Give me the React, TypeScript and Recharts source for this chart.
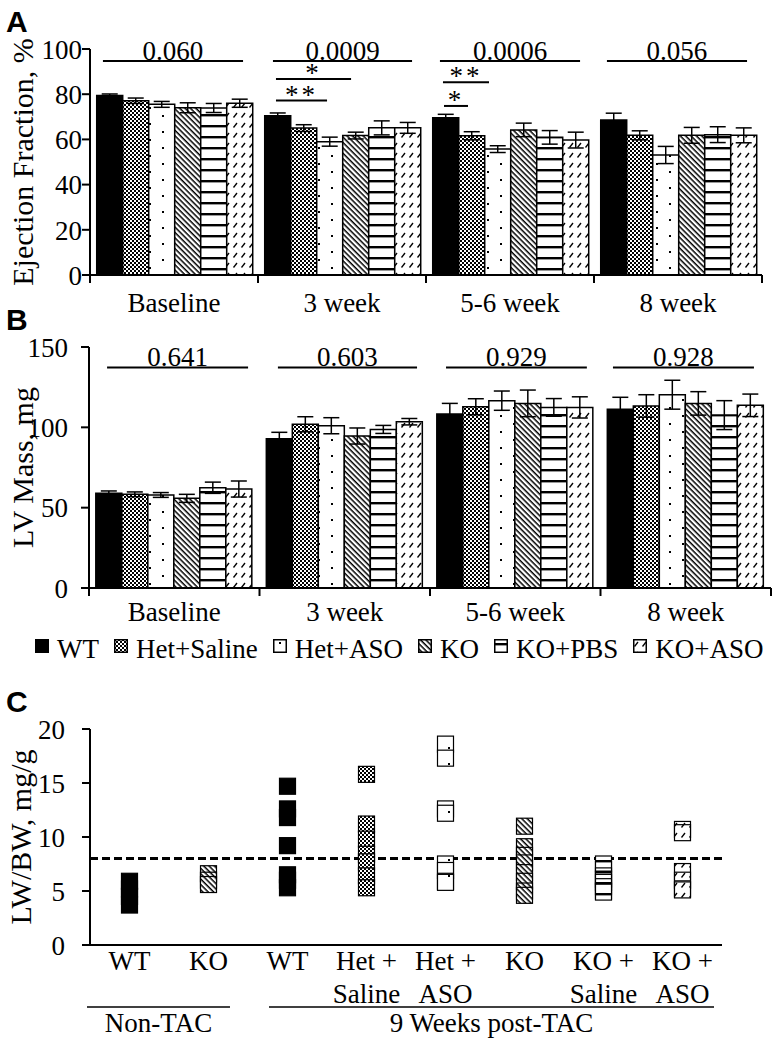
import React from 'react';
import { BarChart, Bar, XAxis, YAxis, ErrorBar, ReferenceLine, Legend, ScatterChart, Scatter } from 'recharts';

const FONT = "'Liberation Serif', 'Times New Roman', serif";

// ---------- Panels A & B: categories / series ----------
const groups = ['WT', 'Het+Saline', 'Het+ASO', 'KO', 'KO+PBS', 'KO+ASO'];
const timepoints = ['Baseline', '3 week', '5-6 week', '8 week'];

// Ejection fraction (%), mean and SEM per group across timepoints
const efWT = [79.4, 70.5, 69.6, 68.6];
const efHetSaline = [77.1, 65.0, 61.6, 61.8];
const efHetASO = [75.5, 59.0, 55.7, 53.1];
const efKO = [74.0, 61.7, 64.2, 61.8];
const efKOPBS = [73.9, 65.1, 60.9, 62.1];
const efKOASO = [76.0, 65.1, 59.7, 61.8];
const efErrWT = [0.7, 1.2, 1.5, 3.0];
const efErrHetSaline = [1.2, 1.5, 1.8, 2.0];
const efErrHetASO = [1.3, 2.0, 1.5, 3.8];
const efErrKO = [2.2, 1.5, 3.0, 3.5];
const efErrKOPBS = [2.0, 3.1, 3.0, 3.5];
const efErrKOASO = [1.8, 2.4, 3.5, 3.3];

// LV mass (mg)
const lvWT = [58.9, 92.9, 108.3, 111.2];
const lvHetSaline = [58.3, 101.9, 112.8, 113.3];
const lvHetASO = [57.9, 101.0, 116.6, 120.3];
const lvKO = [55.8, 94.6, 114.9, 114.9];
const lvKOPBS = [62.4, 98.7, 112.4, 107.6];
const lvKOASO = [61.6, 103.5, 112.4, 113.7];
const lvErrWT = [1.5, 4.0, 6.6, 7.5];
const lvErrHetSaline = [1.5, 4.7, 5.0, 7.0];
const lvErrHetASO = [1.5, 5.0, 6.0, 9.0];
const lvErrKO = [2.5, 5.0, 8.3, 7.3];
const lvErrKOPBS = [3.5, 2.5, 5.5, 9.0];
const lvErrKOASO = [5.0, 2.0, 6.6, 7.0];

// significance annotations (x in category units, 0..4)
const efPLabels = ['0.060', '0.0009', '0.0006', '0.056'];
const efPStart = [0.077, 1.089, 2.083, 3.077];
const efPEnd = [0.911, 1.917, 2.917, 3.911];
const efPY = 94.7;
const efStarLabels = ['*', '**', '**', '*'];
const efStarStart = [1.107, 1.107, 2.101, 2.107];
const efStarEnd = [1.554, 1.411, 2.375, 2.25];
const efStarY = [86.7, 77.2, 85.3, 74.8];

const lvPLabels = ['0.641', '0.603', '0.929', '0.928'];
const lvPStart = [0.106, 1.108, 2.094, 3.073];
const lvPEnd = [0.933, 1.924, 2.92, 3.9];
const lvPY = 137.3;

// ---------- Panel C ----------
const cLabels = ['WT', 'KO', 'WT', 'Het +\nSaline', 'Het +\nASO', 'KO', 'KO +\nSaline', 'KO +\nASO'];
const cNonTacWT = [5.9, 5.2, 4.5, 3.7];
const cNonTacKO = [6.6, 6.0, 5.6];
const cWT = [14.7, 12.6, 11.8, 9.2, 6.5, 6.0, 5.3];
const cHetSaline = [15.8, 11.2, 9.8, 8.4, 7.7, 6.4, 5.3];
const cHetASO = [18.6, 17.3, 12.6, 12.2, 7.5, 6.9, 5.9, 5.8];
const cKO = [11.0, 9.1, 8.3, 7.6, 6.7, 5.9, 5.0, 4.6];
const cKOSaline = [7.5, 7.0, 6.4, 6.1, 5.8, 5.4, 5.0, 4.9];
const cKOASO = [10.7, 10.4, 6.8, 6.0, 5.2, 5.1];
const cThreshold = 8;
const cGroupLabels = ['Non-TAC', '9 Weeks post-TAC'];
const cGroupStart = [-0.538, 1.766];
const cGroupEnd = [1.272, 7.399];
const cGroupY = -5.75;

// ---------- styling ----------
const fills = ['#000', 'url(#pChecker)', 'url(#pDots)', 'url(#pDiag)', 'url(#pHoriz)', 'url(#pDash)'];
const keys = ['wt', 'hs', 'ha', 'ko', 'kp', 'ka'];

const efSeries = [efWT, efHetSaline, efHetASO, efKO, efKOPBS, efKOASO];
const efErrSeries = [efErrWT, efErrHetSaline, efErrHetASO, efErrKO, efErrKOPBS, efErrKOASO];
const lvSeries = [lvWT, lvHetSaline, lvHetASO, lvKO, lvKOPBS, lvKOASO];
const lvErrSeries = [lvErrWT, lvErrHetSaline, lvErrHetASO, lvErrKO, lvErrKOPBS, lvErrKOASO];

const buildRows = (series: number[][], errs: number[][]) =>
  timepoints.map((tp, t) => {
    const row: any = { tp, pos: t + 0.5 };
    keys.forEach((k, i) => {
      row[k] = series[i][t];
      row[k + 'Err'] = errs[i][t];
    });
    return row;
  });

const efData = buildRows(efSeries, efErrSeries);
const lvData = buildRows(lvSeries, lvErrSeries);

const cSeries = [
  { idx: 0, vals: cNonTacWT, fill: fills[0] },
  { idx: 1, vals: cNonTacKO, fill: fills[3] },
  { idx: 2, vals: cWT, fill: fills[0] },
  { idx: 3, vals: cHetSaline, fill: fills[1] },
  { idx: 4, vals: cHetASO, fill: fills[2] },
  { idx: 5, vals: cKO, fill: fills[3] },
  { idx: 6, vals: cKOSaline, fill: fills[4] },
  { idx: 7, vals: cKOASO, fill: fills[5] },
];

const TICK_FS = 27;
const TITLE_FS = 30;
const AX = { stroke: '#000', strokeWidth: 2 };

const CatTick = (props: any) => {
  const { x, y, payload, index, half, count, labelDy } = props;
  return (
    <g>
      <line x1={x - half} x2={x - half} y1={y} y2={y + 8} stroke="#000" strokeWidth={2} />
      {index === count - 1 && <line x1={x + half} x2={x + half} y1={y} y2={y + 8} stroke="#000" strokeWidth={2} />}
      <text x={x} y={y + labelDy} textAnchor="middle" fontSize={TICK_FS} fill="#000">{payload.value}</text>
    </g>
  );
};

const YTick = (props: any) => (
  <text x={props.x} y={props.y} dy="0.36em" textAnchor="end" fontSize={TICK_FS} fill="#000">{props.payload.value}</text>
);

const CTick = (props: any) => {
  const { x, y, payload } = props;
  const lines = cLabels[Math.round(payload.value)].split('\n');
  return (
    <g>
      {lines.map((l, i) => (
        <text key={i} x={x} y={y + 25 + i * 33} textAnchor="middle" fontSize={TICK_FS} fill="#000">{l}</text>
      ))}
    </g>
  );
};

const LegendContent = () => (
  <div style={{ display: 'flex', alignItems: 'center', paddingLeft: 35, fontSize: 27, whiteSpace: 'nowrap', fontFamily: FONT, color: '#000', lineHeight: '30px' }}>
    {groups.map((g, i) => (
      <div key={g} style={{ display: 'flex', alignItems: 'center', marginRight: 15 }}>
        <svg width={14} height={14} style={{ display: 'block', position: 'relative', top: -3 }}>
          <rect x={0.75} y={0.75} width={12.5} height={12.5} fill={fills[i]} stroke="#000" strokeWidth={1.5} />
        </svg>
        <span style={{ marginLeft: 8 }}>{g}</span>
      </div>
    ))}
  </div>
);

const sigLabel = (value: string, offset = 1) => ({ value, position: 'top' as const, fill: '#000', fontSize: TICK_FS, offset });

const renderBars = (errSuffix: string) =>
  keys.map((k, i) => (
    <Bar key={k} dataKey={k} name={groups[i]} fill={fills[i]} stroke="#000" strokeWidth={1.5} isAnimationActive={false}>
      <ErrorBar dataKey={k + errSuffix} width={8} stroke="#000" strokeWidth={1.5} direction="y" />
    </Bar>
  ));

const makeSquare = (fill: string) => (p: any) => (
  <rect x={p.cx - 8} y={p.cy - 8} width={16} height={16} fill={fill} stroke="#000" strokeWidth={1.2} />
);

export default function App() {
  return (
    <div style={{ position: 'absolute', left: 0, top: 0, width: 776, height: 1045, fontFamily: FONT, background: '#fff' }}>
      <svg width={0} height={0} style={{ position: 'absolute' }}>
        <defs>
          <pattern id="pChecker" width="4" height="4" patternUnits="userSpaceOnUse">
            <rect width="4" height="4" fill="#fff" />
            <rect width="2" height="2" fill="#000" />
            <rect x="2" y="2" width="2" height="2" fill="#000" />
          </pattern>
          <pattern id="pDots" width="26" height="16" patternUnits="userSpaceOnUse">
            <rect width="26" height="16" fill="#fff" />
            <rect x="6" y="3" width="2" height="2" fill="#000" />
            <rect x="19" y="11" width="2" height="2" fill="#000" />
          </pattern>
          <pattern id="pDiag" width="3.8" height="3.8" patternUnits="userSpaceOnUse" patternTransform="rotate(-45)">
            <rect width="3.8" height="3.8" fill="#fff" />
            <rect x="0.4" y="0" width="1.5" height="3.8" fill="#000" />
          </pattern>
          <pattern id="pHoriz" width="10" height="11" patternUnits="userSpaceOnUse">
            <rect width="10" height="11" fill="#fff" />
            <rect x="0" y="4" width="10" height="2.4" fill="#000" />
          </pattern>
          <pattern id="pDash" width="8" height="10" patternUnits="userSpaceOnUse">
            <rect width="8" height="10" fill="#fff" />
            <line x1="1.5" y1="7.5" x2="5" y2="3" stroke="#000" strokeWidth="1.3" />
          </pattern>
        </defs>
      </svg>

      {/* Panel A */}
      <div style={{ position: 'absolute', left: 0, top: 0 }}>
        <BarChart width={776} height={320} data={efData} margin={{ top: 49, right: 14, left: 0, bottom: 5 }} barGap={0} barCategoryGap="4%">
          <XAxis dataKey="tp" interval={0} tickLine={false} tickSize={0} tickMargin={0} axisLine={AX} height={40}
            tick={(p: any) => <CatTick {...p} half={84} count={4} labelDy={37} />} />
          <XAxis xAxisId="pos" dataKey="pos" type="number" domain={[0, 4]} allowDataOverflow hide />
          <YAxis domain={[0, 100]} ticks={[0, 20, 40, 60, 80, 100]} interval={0} width={90} tickSize={8} tickMargin={0}
            axisLine={AX} tickLine={AX} tick={(p: any) => <YTick {...p} />}
            label={{ value: 'Ejection Fraction, %', angle: -90, position: 'insideLeft', offset: 22, fill: '#000', fontSize: TITLE_FS, style: { textAnchor: 'middle' } }} />
          {renderBars('Err')}
          {efPLabels.map((l, i) => (
            <ReferenceLine key={'p' + i} xAxisId="pos" segment={[{ x: efPStart[i], y: efPY }, { x: efPEnd[i], y: efPY }]}
              stroke="#000" strokeWidth={2} ifOverflow="visible" label={sigLabel(l)} />
          ))}
          {efStarLabels.map((l, i) => (
            <ReferenceLine key={'s' + i} xAxisId="pos" segment={[{ x: efStarStart[i], y: efStarY[i] }, { x: efStarEnd[i], y: efStarY[i] }]}
              stroke="#000" strokeWidth={2} ifOverflow="visible" label={{ ...sigLabel(l, -3), letterSpacing: 3 }} />
          ))}
        </BarChart>
      </div>

      {/* Panel B */}
      <div style={{ position: 'absolute', left: 0, top: 300 }}>
        <BarChart width={776} height={380} data={lvData} margin={{ top: 47, right: 5, left: 0, bottom: 52 }} barGap={0} barCategoryGap="4%">
          <XAxis dataKey="tp" interval={0} tickLine={false} tickSize={0} tickMargin={0} axisLine={AX} height={40}
            tick={(p: any) => <CatTick {...p} half={85.25} count={4} labelDy={33} />} />
          <XAxis xAxisId="pos" dataKey="pos" type="number" domain={[0, 4]} allowDataOverflow hide />
          <YAxis domain={[0, 150]} ticks={[0, 50, 100, 150]} interval={0} width={89} tickSize={8} tickMargin={13}
            axisLine={AX} tickLine={AX} tick={(p: any) => <YTick {...p} />}
            label={{ value: 'LV Mass, mg', angle: -90, position: 'insideLeft', offset: 22, fill: '#000', fontSize: TITLE_FS, style: { textAnchor: 'middle' } }} />
          {renderBars('Err')}
          {lvPLabels.map((l, i) => (
            <ReferenceLine key={'p' + i} xAxisId="pos" segment={[{ x: lvPStart[i], y: lvPY }, { x: lvPEnd[i], y: lvPY }]}
              stroke="#000" strokeWidth={2} ifOverflow="visible" label={sigLabel(l)} />
          ))}
          <Legend verticalAlign="middle" align="center" layout="horizontal" wrapperStyle={{ top: 334, left: 0, width: 776 }} content={() => <LegendContent />} />
        </BarChart>
      </div>

      {/* Panel C */}
      <div style={{ position: 'absolute', left: 0, top: 680 }}>
        <ScatterChart width={776} height={365} margin={{ top: 49, right: 54, left: 0, bottom: 40 }}>
          <XAxis type="number" dataKey="x" domain={[-0.5, 7.5]} ticks={[0, 1, 2, 3, 4, 5, 6, 7]} interval={0} allowDataOverflow
            tickLine={false} tickSize={0} tickMargin={0} axisLine={AX} height={60} tick={(p: any) => <CTick {...p} />} />
          <YAxis type="number" dataKey="y" domain={[0, 20]} ticks={[0, 5, 10, 15, 20]} interval={0} width={90} tickSize={8} tickMargin={17}
            axisLine={AX} tickLine={AX} tick={(p: any) => <YTick {...p} />}
            label={{ value: 'LW/BW, mg/g', angle: -90, position: 'insideLeft', offset: 20, fill: '#000', fontSize: TITLE_FS, style: { textAnchor: 'middle' } }} />
          {cSeries.map((s) => (
            <Scatter key={s.idx} data={s.vals.map((v) => ({ x: s.idx, y: v }))} fill={s.fill} shape={makeSquare(s.fill)} isAnimationActive={false} />
          ))}
          <ReferenceLine y={cThreshold} stroke="#000" strokeWidth={3} strokeDasharray="8 4" />
          {cGroupLabels.map((l, i) => (
            <ReferenceLine key={'g' + i} segment={[{ x: cGroupStart[i], y: cGroupY }, { x: cGroupEnd[i], y: cGroupY }]}
              stroke="#000" strokeWidth={1.5} ifOverflow="visible"
              label={{ value: l, position: 'bottom', offset: 6, fill: '#000', fontSize: TICK_FS }} />
          ))}
        </ScatterChart>
      </div>

      {/* panel letters */}
      <svg width={776} height={1045} style={{ position: 'absolute', left: 0, top: 0, pointerEvents: 'none' }}>
        <g fontFamily="'Liberation Sans', Arial, sans-serif" fontWeight="bold" fontSize={30} fill="#000">
          <text x={6} y={32}>A</text>
          <text x={6} y={330}>B</text>
          <text x={6} y={712}>C</text>
        </g>
      </svg>
    </div>
  );
}
